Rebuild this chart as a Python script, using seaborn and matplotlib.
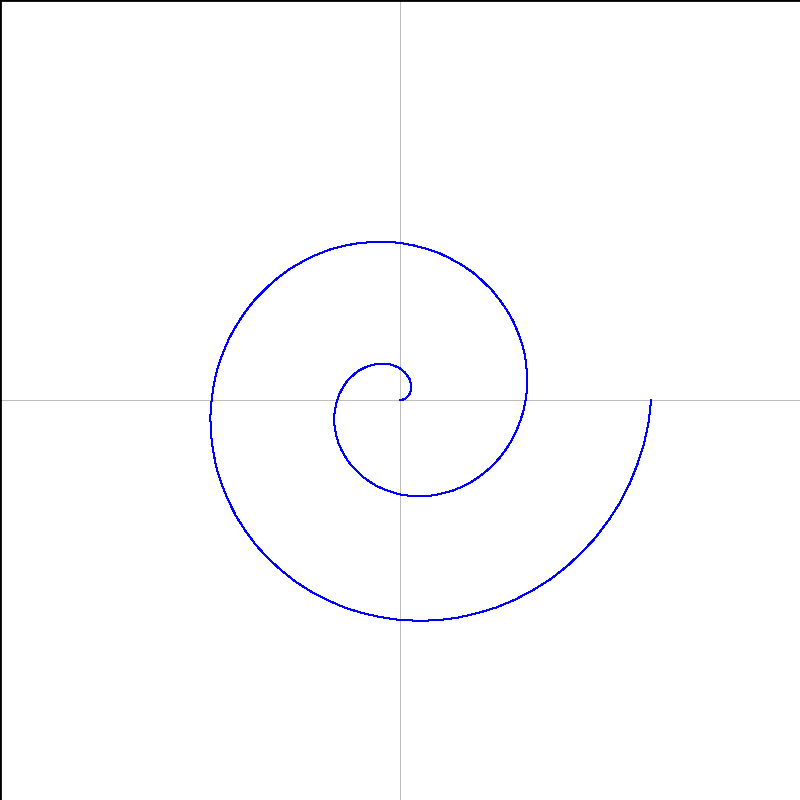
import numpy as np
import pandas as pd
import matplotlib
matplotlib.use("Agg")
import matplotlib.pyplot as plt
import seaborn as sns
sns.set_style("white")

# angle of each reading, degrees (two full turns, every 5 degrees)
angle_deg = list(range(0, 721, 5))

# radius (axis units, axes span -10..10)
radius = [
    0.00, 0.04, 0.09, 0.13, 0.17, 0.22, 0.26, 0.31, 0.35, 0.39,
    0.44, 0.48, 0.52, 0.57, 0.61, 0.65, 0.70, 0.74, 0.79, 0.83,
    0.87, 0.92, 0.96, 1.00, 1.05, 1.09, 1.13, 1.18, 1.22, 1.27,
    1.31, 1.35, 1.40, 1.44, 1.48, 1.53, 1.57, 1.61, 1.66, 1.70,
    1.75, 1.79, 1.83, 1.88, 1.92, 1.96, 2.01, 2.05, 2.09, 2.14,
    2.18, 2.23, 2.27, 2.31, 2.36, 2.40, 2.44, 2.49, 2.53, 2.57,
    2.62, 2.66, 2.71, 2.75, 2.79, 2.84, 2.88, 2.92, 2.97, 3.01,
    3.05, 3.10, 3.14, 3.19, 3.23, 3.27, 3.32, 3.36, 3.40, 3.45,
    3.49, 3.53, 3.58, 3.62, 3.67, 3.71, 3.75, 3.80, 3.84, 3.88,
    3.93, 3.97, 4.01, 4.06, 4.10, 4.15, 4.19, 4.23, 4.28, 4.32,
    4.36, 4.41, 4.45, 4.49, 4.54, 4.58, 4.63, 4.67, 4.71, 4.76,
    4.80, 4.84, 4.89, 4.93, 4.97, 5.02, 5.06, 5.11, 5.15, 5.19,
    5.24, 5.28, 5.32, 5.37, 5.41, 5.45, 5.50, 5.54, 5.59, 5.63,
    5.67, 5.72, 5.76, 5.80, 5.85, 5.89, 5.93, 5.98, 6.02, 6.07,
    6.11, 6.15, 6.20, 6.24, 6.28,
]

theta = np.radians(angle_deg)
df = pd.DataFrame({
    "x": np.array(radius) * np.cos(theta),
    "y": np.array(radius) * np.sin(theta),
})

fig = plt.figure(figsize=(8, 8), dpi=100)
ax = fig.add_axes([0, 0, 1, 1])

ax.axhline(0, color="#bdbdbd", linewidth=0.72, antialiased=False, zorder=1)
ax.axvline(0, color="#bdbdbd", linewidth=0.72, antialiased=False, zorder=1)

sns.lineplot(
    data=df,
    x="x",
    y="y",
    sort=False,
    estimator=None,
    color="#0000ff",
    linewidth=0.72,
    antialiased=False,
    ax=ax,
    zorder=3,
)

ax.set_xlim(-10, 10)
ax.set_ylim(-10, 10)
ax.set_xticks([])
ax.set_yticks([])
ax.set_xlabel("")
ax.set_ylabel("")

for side in ["right", "bottom"]:
    ax.spines[side].set_visible(False)
for side in ["left", "top"]:
    ax.spines[side].set_color("black")
    ax.spines[side].set_linewidth(2)

fig.savefig("out.png", dpi=100)
